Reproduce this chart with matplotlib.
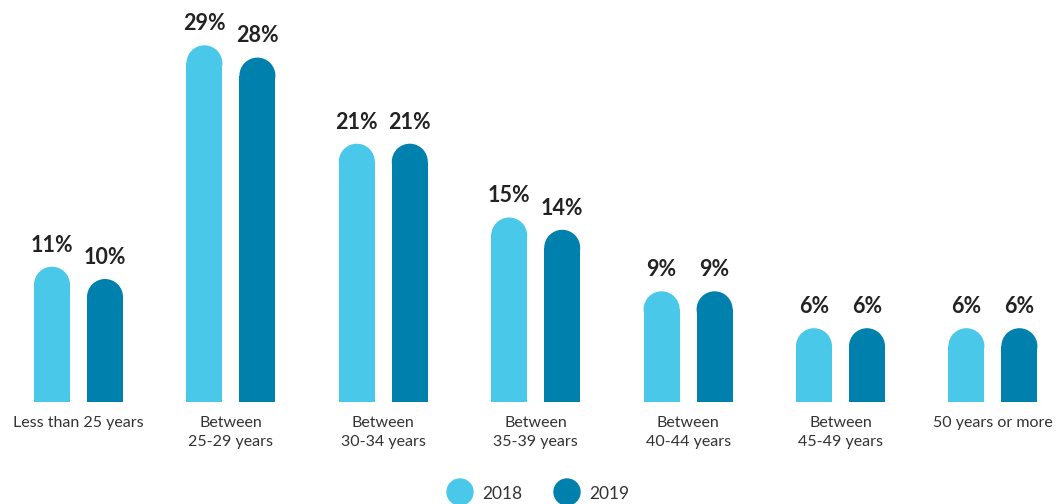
import matplotlib
matplotlib.use('Agg')
import matplotlib.pyplot as plt
from matplotlib.patches import Ellipse
import numpy as np

# ── data ──────────────────────────────────────────────────────────────
categories = ["Less than 25 years", "Between\n25-29 years", "Between\n30-34 years",
              "Between\n35-39 years", "Between\n40-44 years", "Between\n45-49 years",
              "50 years or more"]
vals_2018 = [11, 29, 21, 15, 9, 6, 6]
vals_2019 = [10, 28, 21, 14, 9, 6, 6]
series = ["2018", "2019"]

LIGHT = "#4AC8EA"
DARK  = "#0081AD"
TEXT  = "#222222"
FONT  = "Lato"

W, H = 1058, 504
fig = plt.figure(figsize=(W / 100, H / 100), dpi=100, facecolor="white")

# pixel layout: group 0 centre at 78.5px, spacing 152.4px, baseline 402px from top
px_per_x = 152.4
px_per_y = 12.3
x0 = -78.5 / px_per_x
x1 = (W - 78.5) / px_per_x
base_px = H - 402
ax = fig.add_axes([0, base_px / H, 1, (H - base_px) / H])
ax.set_xlim(x0, x1)
ax.set_ylim(0, (H - base_px) / px_per_y)
ax.axis('off')

bw = 36 / px_per_x          # bar width
off = 26.5 / px_per_x       # offset from group centre
rx = bw / 2
ry = 18 / px_per_y          # cap radius in y units

x = np.arange(len(categories))
for vals, col, sgn in [(vals_2018, LIGHT, -1), (vals_2019, DARK, 1)]:
    xs = x + sgn * off
    ax.bar(xs, [v - ry for v in vals], width=bw, color=col, linewidth=0)
    for xi, v in zip(xs, vals):
        ax.add_patch(Ellipse((xi, v - ry), 2 * rx, 2 * ry, color=col, linewidth=0))
        ax.annotate(f"{v}%", (xi, v), xytext=(0, 8), textcoords='offset points',
                    ha='center', va='bottom', fontsize=15.5, fontweight='bold',
                    color=TEXT, fontfamily=FONT)

# category labels
for xi, lab in zip(x, categories):
    ax.annotate(lab, (xi, 0), xytext=(0, -10), textcoords='offset points',
                ha='center', va='top', fontsize=11.5, color="#333333",
                fontfamily=FONT, linespacing=1.45)

# legend
for cx, col, lab in [(460, LIGHT, series[0]), (567, DARK, series[1])]:
    fig.patches.append(Ellipse((cx / W, 1 - 492 / H), 26 / W, 26 / H,
                               transform=fig.transFigure, color=col, figure=fig))
    fig.text((cx + 22) / W, 1 - 494 / H, lab, ha='left', va='center',
             fontsize=12.5, color="#333333", fontfamily=FONT)

fig.savefig("out.png", dpi=100, facecolor="white")
